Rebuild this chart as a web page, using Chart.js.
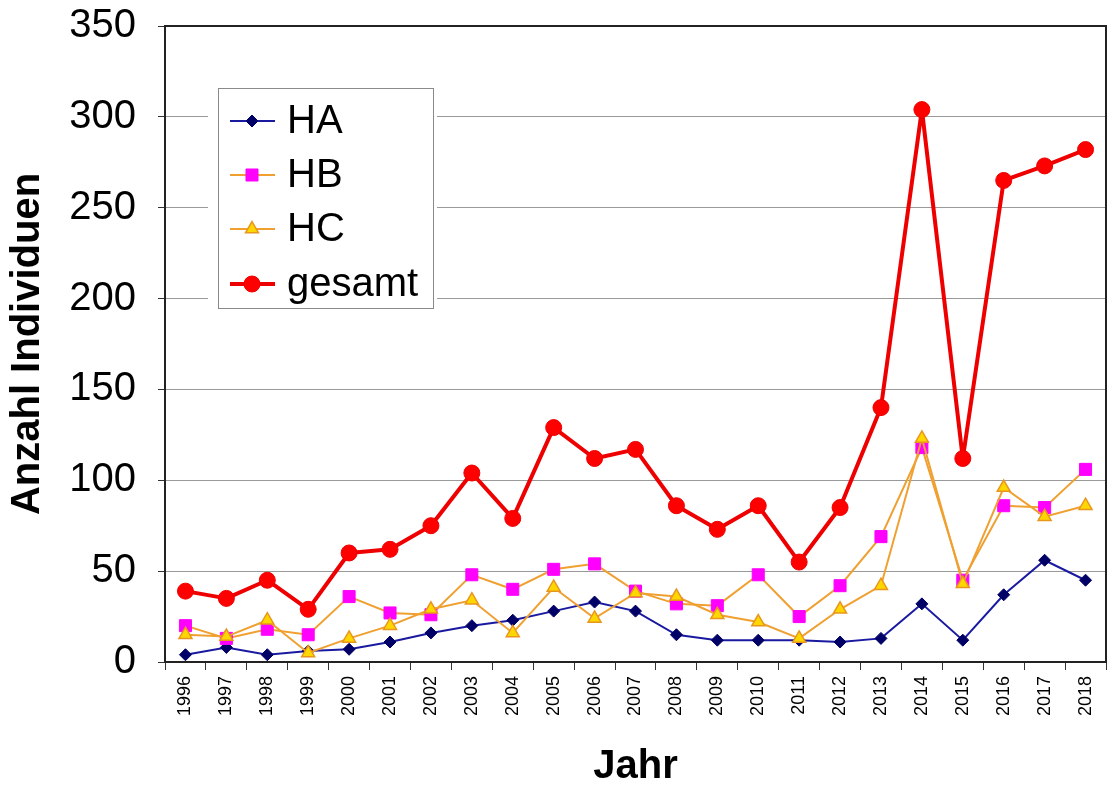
<!DOCTYPE html>
<html>
<head>
<meta charset="utf-8">
<script src="https://cdn.jsdelivr.net/npm/chart.js@4.4.1/dist/chart.umd.min.js"></script>
<style>
body { margin: 0; background: #fff; }
#wrap { width: 1108px; height: 785px; }
</style>
</head>
<body>
<div id="wrap"><canvas id="chart" width="1108" height="785"></canvas></div>
<script>
// Daten
const jahre = ['1996', '1997', '1998', '1999', '2000', '2001', '2002', '2003', '2004', '2005', '2006', '2007',
               '2008', '2009', '2010', '2011', '2012', '2013', '2014', '2015', '2016', '2017', '2018'];
const werteHA = [4, 8, 4, 6, 7, 11, 16, 20, 23, 28, 33, 28, 15, 12, 12, 12, 11, 13, 32, 12, 37, 56, 45];
const werteHB = [20, 13, 18, 15, 36, 27, 26, 48, 40, 51, 54, 39, 32, 31, 48, 25, 42, 69, 118, 45, 86, 85, 106];
const werteHC = [15, 14, 23, 5, 13, 20, 29, 34, 16, 41, 24, 38, 36, 26, 22, 13, 29, 42, 123, 43, 96, 80, 86];
const werteGesamt = [39, 35, 45, 29, 60, 62, 75, 104, 79, 129, 112, 117, 86, 73, 86, 55, 85, 140, 304, 112, 265, 273, 282];
const yTicks = [0, 50, 100, 150, 200, 250, 300, 350];

Chart.defaults.font.family = 'Arial, "Liberation Sans", sans-serif';
Chart.defaults.color = '#000';

// Rahmen um die Zeichenfläche
const rahmen = {
    id: 'rahmen',
    afterDraw(chart) {
        const a = chart.chartArea;
        const ctx = chart.ctx;
        ctx.save();
        ctx.strokeStyle = '#222';
        ctx.lineWidth = 2;
        ctx.strokeRect(a.left, a.top, a.right - a.left, a.bottom - a.top);
        ctx.restore();
    }
};

// Legende im Diagramm (links oben)
const legende = {
    id: 'legende',
    afterDatasetsDraw(chart) {
        const ctx = chart.ctx;
        const x0 = 218, y0 = 88, w = 215, h = 220;
        ctx.save();
        ctx.fillStyle = '#fff';
        ctx.fillRect(x0 - 10, y0 - 4, w + 14, h + 8);
        ctx.strokeStyle = '#8a8a8a';
        ctx.lineWidth = 1;
        ctx.strokeRect(x0 + 0.5, y0 + 0.5, w, h);
        const zeilen = [121, 175, 229, 284];
        chart.data.datasets.forEach((ds, i) => {
            const y = zeilen[i];
            ctx.strokeStyle = ds.borderColor;
            ctx.lineWidth = ds.borderWidth;
            ctx.beginPath();
            ctx.moveTo(230, y);
            ctx.lineTo(275, y);
            ctx.stroke();
            ctx.fillStyle = ds.pointBackgroundColor;
            ctx.strokeStyle = ds.pointBorderColor;
            ctx.lineWidth = ds.pointBorderWidth;
            Chart.helpers.drawPoint(ctx, {
                pointStyle: ds.pointStyle,
                radius: ds.pointRadius,
                rotation: 0,
                borderWidth: ds.pointBorderWidth
            }, 252, y);
            ctx.fillStyle = '#000';
            ctx.font = '40px Arial, "Liberation Sans", sans-serif';
            ctx.textBaseline = 'middle';
            ctx.fillText(ds.label, 287, y + 1);
        });
        ctx.restore();
    }
};

const ctx = document.getElementById('chart').getContext('2d');
new Chart(ctx, {
    type: 'line',
    data: {
        labels: jahre,
        datasets: [{
            label: 'HA',
            data: werteHA,
            borderColor: '#1a1aa0',
            borderWidth: 2,
            pointStyle: 'rectRot',
            pointRadius: 6,
            pointBackgroundColor: '#000066',
            pointBorderColor: '#000066',
            pointBorderWidth: 1,
            order: 3
        }, {
            label: 'HB',
            data: werteHB,
            borderColor: '#f0a030',
            borderWidth: 2,
            pointStyle: 'rect',
            pointRadius: 8.5,
            pointBackgroundColor: '#ff00ff',
            pointBorderColor: '#ff00ff',
            pointBorderWidth: 1,
            order: 2
        }, {
            label: 'HC',
            data: werteHC,
            borderColor: '#f0a030',
            borderWidth: 2,
            pointStyle: 'triangle',
            pointRadius: 7.5,
            pointBackgroundColor: '#ffd700',
            pointBorderColor: '#e8961e',
            pointBorderWidth: 1.5,
            order: 1
        }, {
            label: 'gesamt',
            data: werteGesamt,
            borderColor: '#ee0000',
            borderWidth: 4,
            borderJoinStyle: 'round',
            pointStyle: 'circle',
            pointRadius: 8,
            pointBackgroundColor: '#ff0000',
            pointBorderColor: '#ee0000',
            pointBorderWidth: 1,
            order: 0
        }]
    },
    options: {
        responsive: false,
        animation: false,
        layout: { autoPadding: false, padding: { top: 26, right: 2, left: 0, bottom: 0 } },
        plugins: {
            legend: { display: false },
            tooltip: { enabled: false }
        },
        elements: { line: { tension: 0 } },
        scales: {
            x: {
                offset: true,
                grid: { offset: true, drawOnChartArea: false, tickLength: 8, color: '#333' },
                border: { color: '#222', width: 2 },
                ticks: { minRotation: 90, maxRotation: 90, padding: 6, font: { size: 18 } },
                title: { display: true, text: 'Jahr', font: { size: 40, weight: 'bold' }, padding: { top: 0, bottom: -6 } },
                afterFit(scale) {
                    scale.height = 123;
                    scale.paddingLeft = 0;
                    scale.paddingRight = 0;
                }
            },
            y: {
                min: 0,
                max: 350,
                afterBuildTicks(scale) { scale.ticks = yTicks.map(v => ({ value: v })); },
                grid: { color: '#999', tickLength: 7, tickColor: '#333' },
                border: { color: '#222', width: 2 },
                ticks: { padding: 22, font: { size: 40 } },
                title: { display: true, text: 'Anzahl Individuen', font: { size: 40, weight: 'bold' }, padding: { top: 4, bottom: 0 } },
                afterFit(scale) {
                    scale.width = 165;
                    scale.paddingTop = 0;
                    scale.paddingBottom = 0;
                }
            }
        }
    },
    plugins: [rahmen, legende]
});
</script>
</body>
</html>
